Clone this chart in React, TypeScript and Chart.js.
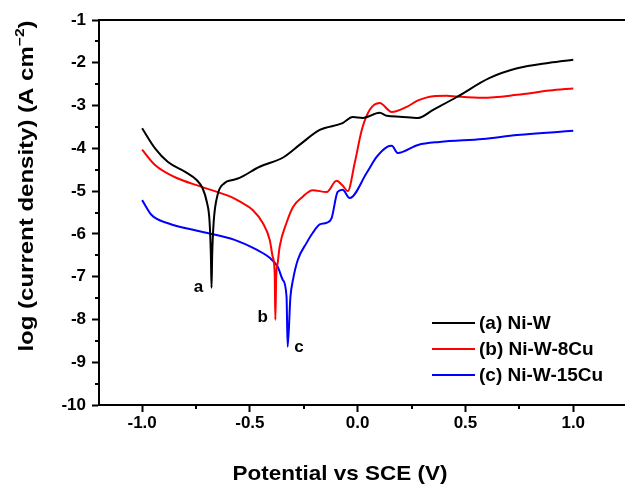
import { useEffect, useRef } from 'react';
import { Chart, registerables } from 'chart.js';

Chart.register(...registerables);

const FONT = '"Liberation Sans", Arial, sans-serif';

// (a) Ni-W
const potentialA = [-1.0, -0.94, -0.88, -0.80, -0.747, -0.72, -0.70, -0.687, -0.681, -0.678, -0.675, -0.668, -0.65, -0.617, -0.58, -0.548, -0.455, -0.348, -0.27, -0.176, -0.07, -0.023, 0.023, 0.102, 0.135, 0.195, 0.28, 0.35, 0.46, 0.61, 0.74, 0.89, 1.0];
const logA = [-3.53, -4.0, -4.32, -4.55, -4.74, -4.93, -5.25, -5.72, -6.5, -7.26, -6.5, -5.72, -5.09, -4.81, -4.74, -4.69, -4.43, -4.22, -3.92, -3.57, -3.41, -3.27, -3.29, -3.17, -3.24, -3.26, -3.29, -3.10, -2.80, -2.36, -2.13, -2.00, -1.93];

// (b) Ni-W-8Cu
const potentialB = [-1.0, -0.94, -0.85, -0.724, -0.585, -0.548, -0.487, -0.441, -0.408, -0.394, -0.385, -0.382, -0.378, -0.371, -0.362, -0.33, -0.30, -0.255, -0.209, -0.144, -0.098, -0.07, -0.046, -0.014, 0.019, 0.056, 0.102, 0.158, 0.227, 0.28, 0.35, 0.413, 0.46, 0.58, 0.74, 0.89, 1.0];
const logB = [-4.03, -4.39, -4.67, -4.90, -5.14, -5.24, -5.44, -5.74, -6.14, -6.54, -6.91, -8.01, -7.0, -6.68, -6.30, -5.74, -5.37, -5.13, -4.98, -5.02, -4.76, -4.87, -5.0, -4.35, -3.57, -3.1, -2.94, -3.15, -3.03, -2.88, -2.78, -2.77, -2.79, -2.82, -2.75, -2.65, -2.60];

// (c) Ni-W-15Cu
const potentialC = [-1.0, -0.956, -0.88, -0.724, -0.571, -0.469, -0.408, -0.371, -0.348, -0.33, -0.325, -0.312, -0.30, -0.278, -0.237, -0.209, -0.176, -0.144, -0.121, -0.093, -0.07, -0.037, 0.042, 0.088, 0.135, 0.158, 0.186, 0.28, 0.38, 0.58, 0.74, 1.0];
const logC = [-5.21, -5.56, -5.75, -5.95, -6.14, -6.37, -6.56, -6.77, -7.07, -7.47, -8.64, -7.47, -7.07, -6.61, -6.21, -5.98, -5.78, -5.74, -5.63, -5.02, -4.97, -5.16, -4.57, -4.2, -3.97, -3.94, -4.11, -3.92, -3.85, -3.78, -3.69, -3.59];

const seriesLabels = ['(a) Ni-W', '(b) Ni-W-8Cu', '(c) Ni-W-15Cu'];
const seriesColors = ['#000000', '#ff0000', '#0000ff'];

const xTickValues = [-1.0, -0.5, 0.0, 0.5, 1.0];
const xMinorValues = [-0.75, -0.25, 0.25, 0.75];
const yTickValues = [-10, -9, -8, -7, -6, -5, -4, -3, -2, -1];
const yMinorValues = [-9.5, -8.5, -7.5, -6.5, -5.5, -4.5, -3.5, -2.5, -1.5];

// corrosion-potential markers: letter, potential, log value
const markerLetters = ['a', 'b', 'c'];
const markerPotentials = [-0.738, -0.441, -0.272];
const markerLogs = [-7.24, -7.96, -8.64];

const xTitle = 'Potential vs SCE (V)';
const yTitleMain = 'log (current density) (A cm';
const yTitleSup = '\u22122';
const yTitleEnd = ')';

function toPoints(xs: number[], ys: number[]) {
  return xs.map((x, i) => ({ x, y: ys[i] }));
}

const decorPlugin = {
  id: 'decor',
  afterDraw(chart: any) {
    const ctx = chart.ctx as CanvasRenderingContext2D;
    const area = chart.chartArea;
    const xs = chart.scales.x;
    const ys = chart.scales.y;
    ctx.save();
    // top frame line
    ctx.strokeStyle = '#000';
    ctx.lineWidth = 2;
    ctx.beginPath();
    ctx.moveTo(area.left - 1, area.top);
    ctx.lineTo(area.right, area.top);
    ctx.stroke();
    // minor ticks
    ctx.beginPath();
    xMinorValues.forEach((v) => {
      const px = Math.round(xs.getPixelForValue(v));
      ctx.moveTo(px, area.bottom);
      ctx.lineTo(px, area.bottom + 4);
    });
    yMinorValues.forEach((v) => {
      const py = Math.round(ys.getPixelForValue(v));
      ctx.moveTo(area.left, py);
      ctx.lineTo(area.left - 4, py);
    });
    ctx.stroke();

    // markers a, b, c
    ctx.fillStyle = '#000';
    ctx.font = `bold 17px ${FONT}`;
    ctx.textAlign = 'center';
    ctx.textBaseline = 'middle';
    markerLetters.forEach((t, i) => {
      ctx.fillText(t, xs.getPixelForValue(markerPotentials[i]), ys.getPixelForValue(markerLogs[i]));
    });

    // legend
    ctx.textAlign = 'left';
    ctx.font = `bold 19px ${FONT}`;
    chart.data.datasets.forEach((ds: any, i: number) => {
      const y = 323 + i * 26;
      ctx.strokeStyle = ds.borderColor;
      ctx.lineWidth = 2;
      ctx.beginPath();
      ctx.moveTo(432, y);
      ctx.lineTo(475, y);
      ctx.stroke();
      ctx.fillStyle = '#000';
      ctx.fillText(ds.label, 479, y + 1);
    });

    // x title
    ctx.save();
    ctx.font = `bold 21px ${FONT}`;
    ctx.textAlign = 'center';
    ctx.textBaseline = 'middle';
    ctx.translate(340, 474);
    ctx.scale(1.07, 1);
    ctx.fillText(xTitle, 0, 0);
    ctx.restore();

    // y title (rotated)
    ctx.translate(26, 186);
    ctx.rotate(-Math.PI / 2);
    ctx.scale(1.2, 1);
    const mainFont = `bold 20px ${FONT}`;
    const supFont = `bold 13px ${FONT}`;
    ctx.font = mainFont;
    const w1 = ctx.measureText(yTitleMain).width;
    const w3 = ctx.measureText(yTitleEnd).width;
    ctx.font = supFont;
    const w2 = ctx.measureText(yTitleSup).width;
    const total = w1 + w2 + w3;
    let x0 = -total / 2;
    ctx.textAlign = 'left';
    ctx.textBaseline = 'alphabetic';
    ctx.font = mainFont;
    ctx.fillText(yTitleMain, x0, 7);
    x0 += w1;
    ctx.font = supFont;
    ctx.fillText(yTitleSup, x0, -2);
    x0 += w2;
    ctx.font = mainFont;
    ctx.fillText(yTitleEnd, x0, 7);
    ctx.restore();
  },
};

export default function App() {
  const canvasRef = useRef<HTMLCanvasElement | null>(null);

  useEffect(() => {
    document.body.style.margin = '0';
    const canvas = canvasRef.current;
    if (!canvas) return;
    const seriesX = [potentialA, potentialB, potentialC];
    const seriesY = [logA, logB, logC];
    const chart = new Chart(canvas, {
      type: 'line',
      data: {
        datasets: seriesLabels.map((label, i) => ({
          label,
          data: toPoints(seriesX[i], seriesY[i]),
          borderColor: seriesColors[i],
          backgroundColor: seriesColors[i],
          borderWidth: 2,
          pointRadius: 0,
          fill: false,
          cubicInterpolationMode: 'monotone' as const,
        })),
      },
      options: {
        responsive: false,
        animation: false,
        layout: { padding: { top: 20, right: 0, left: 0, bottom: 0 } },
        plugins: {
          legend: { display: false },
          tooltip: { enabled: false },
        },
        scales: {
          x: {
            type: 'linear',
            min: -1.2,
            max: 1.24,
            afterBuildTicks: (scale: any) => {
              scale.ticks = xTickValues.map((v) => ({ value: v }));
            },
            afterFit: (scale: any) => {
              scale.height = 81;
            },
            grid: {
              display: true,
              drawOnChartArea: false,
              drawTicks: true,
              tickLength: 7,
              tickWidth: 2,
              tickColor: '#000',
              color: '#000',
            },
            border: { display: true, color: '#000', width: 2 },
            ticks: {
              color: '#000',
              padding: 1,
              maxRotation: 0,
              font: { family: FONT, size: 17, weight: 'bold' },
              callback: (v: any) => Number(v).toFixed(1),
            },
          },
          y: {
            type: 'linear',
            min: -10,
            max: -1,
            afterBuildTicks: (scale: any) => {
              scale.ticks = yTickValues.map((v) => ({ value: v }));
            },
            afterFit: (scale: any) => {
              scale.width = 99;
            },
            grid: {
              display: true,
              drawOnChartArea: false,
              drawTicks: true,
              tickLength: 7,
              tickWidth: 2,
              tickColor: '#000',
              color: '#000',
            },
            border: { display: true, color: '#000', width: 2 },
            ticks: {
              color: '#000',
              padding: 6,
              font: { family: FONT, size: 17, weight: 'bold' },
              callback: (v: any) => String(v),
            },
          },
        },
      },
      plugins: [decorPlugin],
    });
    return () => chart.destroy();
  }, []);

  return (
    <div style={{ position: 'absolute', left: 0, top: 0, width: 625, height: 486 }}>
      <canvas ref={canvasRef} width={625} height={486} />
    </div>
  );
}
